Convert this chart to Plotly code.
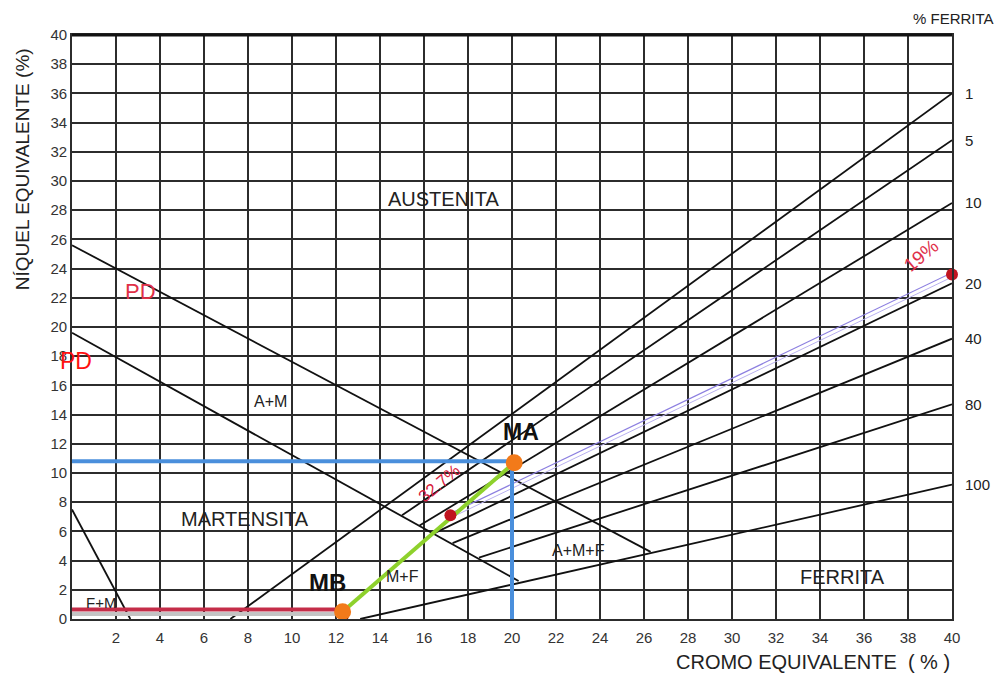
import plotly.graph_objects as go

# ---------------- data ----------------
x_ticks = list(range(2, 41, 2))
y_ticks = list(range(0, 41, 2))

# phase boundary lines (Cr_eq, Ni_eq)
upper_desc_x = [0, 26.3]
upper_desc_y = [25.6, 4.6]
lower_desc_x = [0, 20.3]
lower_desc_y = [19.6, 2.6]
fm_desc_x = [0, 2.65]
fm_desc_y = [7.5, 0]

# iso-ferrite lines: label, start (x, y), end (x, y)
ferrite_labels = ["1", "5", "10", "20", "40", "80", "100"]
ferrite_x0 = [7.2, 15.0, 15.8, 16.5, 17.3, 18.5, 13.1]
ferrite_y0 = [0.0, 7.1, 6.4, 5.9, 5.2, 4.2, 0.0]
ferrite_x1 = [40, 40, 40, 40, 40, 40, 40]
ferrite_y1 = [36.0, 32.8, 28.5, 23.0, 19.2, 14.7, 9.2]

# points
MA = (20.1, 10.7)
MB = (12.3, 0.5)
red_pts_x = [17.2, 40.0]
red_pts_y = [7.1, 23.6]

blue_h_x = [0, 20.0]
blue_h_y = [10.8, 10.8]
blue_v_x = [20.0, 20.0]
blue_v_y = [10.8, -0.2]
red_h_x = [0, 12.3]
red_h_y = [0.65, 0.65]

# region labels
region_text = ["AUSTENITA", "A+M", "MARTENSITA", "M+F", "A+M+F", "FERRITA", "F+M"]
region_x = [16.9, 9.0, 7.85, 15.0, 23.0, 35.0, 1.3]
region_y = [28.8, 14.9, 6.85, 2.9, 4.7, 2.9, 1.1]
region_size = [20, 16, 20, 16, 16, 20, 15]

FONT = "Liberation Sans, Arial, sans-serif"
LINE = "#111111"
GRID = "#2c2c2c"

fig = go.Figure()

def seg(x, y, color=LINE, width=1.8):
    fig.add_trace(go.Scatter(x=x, y=y, mode="lines",
                             line=dict(color=color, width=width),
                             hoverinfo="skip", showlegend=False))

seg(upper_desc_x, upper_desc_y)
seg(lower_desc_x, lower_desc_y)
seg(fm_desc_x, fm_desc_y)
for i in range(len(ferrite_labels)):
    seg([ferrite_x0[i], ferrite_x1[i]], [ferrite_y0[i], ferrite_y1[i]])

# purple double line between red points
seg(red_pts_x, [v + 0.12 for v in red_pts_y], color="#8c7fe0", width=1.2)
seg(red_pts_x, [v - 0.18 for v in red_pts_y], color="#b9b1f0", width=1.0)

# blue guide lines
seg(blue_h_x, blue_h_y, color="#4a8fdc", width=4)
seg(blue_v_x, blue_v_y, color="#4a8fdc", width=4)
# red horizontal line with grey shadow
seg(red_h_x, [v - 0.3 for v in red_h_y], color="#c4c4c4", width=4)
seg(red_h_x, red_h_y, color="#c42c48", width=4)
# green line MB -> MA
seg([MB[0], MA[0]], [MB[1], MA[1]], color="#8ed12c", width=4)

# red points
fig.add_trace(go.Scatter(x=red_pts_x, y=red_pts_y, mode="markers",
                         marker=dict(color="#c01420", size=12),
                         hoverinfo="skip", showlegend=False, cliponaxis=False))
fig.add_trace(go.Scatter(x=[MB[0] + 0.1], y=[MB[1] - 0.4], mode="markers",
                         marker=dict(color="#5a1010", size=7),
                         hoverinfo="skip", showlegend=False, cliponaxis=False))
# orange points
fig.add_trace(go.Scatter(x=[MA[0], MB[0]], y=[MA[1], MB[1]], mode="markers",
                         marker=dict(color="#f27a1a", size=17),
                         hoverinfo="skip", showlegend=False, cliponaxis=False))

ann = []
for t, x, y, s in zip(region_text, region_x, region_y, region_size):
    ann.append(dict(x=x, y=y, text=t, showarrow=False,
                    font=dict(family=FONT, size=s, color="#222")))

ann += [
    dict(x=20.4, y=12.8, text="<b>MA</b>", showarrow=False,
         font=dict(family=FONT, size=23, color="#111")),
    dict(x=11.6, y=2.5, text="<b>MB</b>", showarrow=False,
         font=dict(family=FONT, size=24, color="#111")),
    dict(x=16.7, y=9.3, text="32.7%", showarrow=False, textangle=-40,
         font=dict(family=FONT, size=17, color="#d8203c")),
    dict(x=38.6, y=24.9, text="19%", showarrow=False, textangle=-40,
         font=dict(family=FONT, size=19, color="#e0304a")),
    dict(x=3.1, y=22.4, text="PD", showarrow=False,
         font=dict(family=FONT, size=22, color="#e03048")),
    dict(xref="paper", x=-0.016, y=17.7, text="PD", showarrow=False,
         font=dict(family=FONT, size=23, color="#ff1010")),
]

# ferrite percentage labels at right
for lab, yv in zip(ferrite_labels, ferrite_y1):
    ann.append(dict(xref="paper", x=1.013, y=yv, text=lab, showarrow=False,
                    xanchor="left", yanchor="middle",
                    font=dict(family=FONT, size=15, color="#222")))

ann += [
    dict(xref="paper", yref="paper", x=1.05, y=1.029, text="% FERRITA",
         showarrow=False, xanchor="right", yanchor="middle",
         font=dict(family=FONT, size=15, color="#222")),
    dict(xref="paper", yref="paper", x=-0.057, y=0.77,
         text="NÍQUEL EQUIVALENTE (%)", showarrow=False, textangle=-90,
         xanchor="center", yanchor="middle",
         font=dict(family=FONT, size=19, color="#222")),
    dict(xref="paper", yref="paper", x=1.0, y=-0.074,
         text="CROMO EQUIVALENTE  ( % )", showarrow=False, xanchor="right",
         yanchor="middle",
         font=dict(family=FONT, size=20, color="#222")),
]

fig.update_layout(
    width=996, height=675,
    margin=dict(l=72, r=44, t=35, b=56),
    paper_bgcolor="white", plot_bgcolor="white",
    annotations=ann,
    showlegend=False,
    xaxis=dict(range=[0, 40], tickvals=x_ticks, ticktext=[str(v) for v in x_ticks],
               showgrid=True, gridcolor=GRID, gridwidth=1.7,
               zeroline=False, showline=True, linecolor=GRID, linewidth=1.7,
               mirror=True, ticks="", ticklabelstandoff=4,
               tickfont=dict(family=FONT, size=15, color="#333")),
    yaxis=dict(range=[0, 40], tickvals=y_ticks, ticktext=[str(v) for v in y_ticks],
               showgrid=True, gridcolor=GRID, gridwidth=1.7,
               zeroline=False, showline=True, linecolor=GRID, linewidth=1.7,
               mirror=True, ticks="",
               tickfont=dict(family=FONT, size=15, color="#333")),
)

# thicker top border
fig.add_shape(type="line", xref="paper", yref="paper", x0=0, x1=1, y0=1, y1=1,
              line=dict(color="#111", width=3))

fig.write_html("out.html")
